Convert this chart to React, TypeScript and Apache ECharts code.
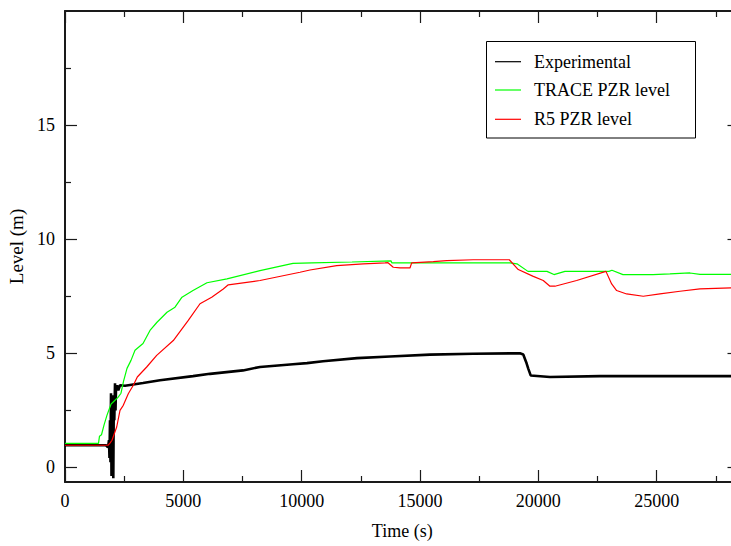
import React, { useEffect, useRef } from "react";
import * as echarts from "echarts";

// ---- data ----
const expTime = [0, 1732, 1817, 1859, 1880, 1901, 1922, 1944, 1965, 1986, 2007, 2028, 2041, 2062, 2083, 2113, 2134, 2155, 2197, 2252, 2324, 2535, 3296, 4014, 5408, 6126, 7521, 8239, 9633, 10225, 10901, 12337, 13731, 15421, 17238, 19224, 19363, 19507, 19574, 19676, 20491, 22604, 25422, 28200];
const expLevel = [0.97, 0.97, 0.88, 1.19, 0.41, 2.07, 0.23, 3.25, -0.38, 2.94, 0.76, 3.16, -0.47, 2.94, 2.07, 3.69, 2.5, 3.47, 3.6, 3.38, 3.6, 3.58, 3.7, 3.82, 4.0, 4.1, 4.25, 4.4, 4.52, 4.57, 4.65, 4.79, 4.86, 4.94, 4.98, 5.0, 4.95, 4.55, 4.33, 4.03, 3.96, 4.0, 4.0, 4.0];

const traceTime = [0, 1415, 1458, 1542, 1648, 1775, 1944, 2070, 2239, 2366, 2472, 2620, 2789, 2958, 3296, 3591, 3887, 4310, 4648, 4943, 5408, 5999, 6844, 8239, 9633, 10436, 12126, 13774, 13816, 18801, 19097, 19562, 20365, 20660, 21125, 22984, 23110, 23575, 24843, 25561, 26406, 26829, 28200];
const traceLevel = [1.05, 1.05, 1.37, 1.43, 1.85, 2.29, 2.77, 2.9, 3.07, 3.25, 3.77, 4.34, 4.69, 5.13, 5.43, 6.0, 6.36, 6.8, 7.02, 7.46, 7.75, 8.09, 8.26, 8.62, 8.94, 8.96, 9.0, 9.05, 8.96, 8.96, 8.92, 8.59, 8.59, 8.45, 8.59, 8.59, 8.64, 8.45, 8.45, 8.48, 8.52, 8.46, 8.46];

const r5Time = [0, 1817, 1901, 1986, 2184, 2324, 2463, 2674, 2886, 3055, 3452, 3874, 4576, 5209, 5704, 6198, 6688, 6899, 8239, 9929, 10351, 11479, 12603, 13520, 13647, 13870, 14154, 14576, 14648, 15561, 16127, 17251, 18772, 19152, 19786, 20208, 20491, 20703, 21619, 22857, 23098, 23309, 23732, 24433, 25139, 25984, 26829, 28200];
const r5Level = [0.97, 0.97, 1.06, 1.19, 1.77, 2.5, 2.72, 3.23, 3.6, 3.96, 4.4, 4.91, 5.56, 6.44, 7.17, 7.46, 7.82, 8.0, 8.19, 8.55, 8.65, 8.84, 8.92, 8.96, 8.97, 8.77, 8.74, 8.74, 8.96, 9.02, 9.06, 9.1, 9.1, 8.67, 8.37, 8.19, 7.94, 7.94, 8.19, 8.59, 8.04, 7.75, 7.6, 7.5, 7.6, 7.72, 7.82, 7.87];

const seriesNames = ["Experimental", "TRACE PZR level", "R5 PZR level"];
const seriesColors = ["#000000", "#00ff00", "#ff0000"];

const xMajorTicks = [0, 5000, 10000, 15000, 20000, 25000];
const xMinorTicks = [2500, 7500, 12500, 17500, 22500, 27500];
const yMajorTicks = [0, 5, 10, 15];
const yMinorTicks = [2.5, 7.5, 12.5, 17.5];

const X_MIN = 0;
const X_MAX = 28500;
const Y_MIN = -0.64;
const Y_MAX = 20;

const FONT = "Liberation Serif";
const AXIS_COLOR = "#1a1a1a";

function zip(t: number[], v: number[]) {
  return t.map((x, i) => [x, v[i]]);
}

function xAxisDef(position: "top" | "bottom", ticks: number[], len: number, main: boolean) {
  return {
    type: "value",
    gridIndex: 0,
    position,
    min: X_MIN,
    max: X_MAX,
    axisLine: { show: main, onZero: false, lineStyle: { color: AXIS_COLOR, width: 2 } },
    axisTick: { show: true, inside: true, length: len, customValues: ticks, lineStyle: { color: AXIS_COLOR, width: 1.2 } },
    axisLabel: main && position === "bottom"
      ? { show: true, customValues: ticks, fontSize: 18, fontFamily: FONT, color: "#000", margin: 10, formatter: (v: number) => String(v) }
      : { show: false },
    splitLine: { show: false },
    name: main && position === "bottom" ? "Time (s)" : "",
    nameLocation: "middle",
    nameGap: 40,
    nameTextStyle: { fontSize: 18, fontFamily: FONT, color: "#000" },
  };
}

function yAxisDef(position: "left" | "right", ticks: number[], len: number, main: boolean) {
  return {
    type: "value",
    gridIndex: 0,
    position,
    min: Y_MIN,
    max: Y_MAX,
    axisLine: { show: main, onZero: false, lineStyle: { color: AXIS_COLOR, width: 2 } },
    axisTick: { show: true, inside: true, length: len, customValues: ticks, lineStyle: { color: AXIS_COLOR, width: 1.2 } },
    axisLabel: main && position === "left"
      ? { show: true, customValues: ticks, fontSize: 18, fontFamily: FONT, color: "#000", margin: 10, formatter: (v: number) => String(v) }
      : { show: false },
    splitLine: { show: false },
    name: main && position === "left" ? "Level (m)" : "",
    nameLocation: "middle",
    nameRotate: 90,
    nameGap: 36,
    nameTextStyle: { fontSize: 19, fontFamily: FONT, color: "#000" },
  };
}

export default function App() {
  const ref = useRef<HTMLDivElement>(null);

  useEffect(() => {
    if (!ref.current) return;
    const chart = echarts.init(ref.current, undefined, { renderer: "svg" });

    const legendLeft = 486.5;
    const legendTop = 41.5;
    const rowY = [61.7, 90, 119.3];
    const legendGraphics: any[] = [
      {
        type: "rect",
        shape: { x: legendLeft, y: legendTop, width: 209, height: 96.5 },
        style: { fill: "#fff", stroke: "#000", lineWidth: 1 },
        z: 100,
      },
    ];
    seriesNames.forEach((name, i) => {
      legendGraphics.push({
        type: "line",
        shape: { x1: 495, y1: rowY[i], x2: 521, y2: rowY[i] },
        style: { stroke: seriesColors[i], lineWidth: 1.2 },
        z: 101,
      });
      legendGraphics.push({
        type: "text",
        x: 534,
        y: rowY[i],
        style: { text: name, fill: "#000", fontSize: 18, fontFamily: FONT, verticalAlign: "middle", align: "left" },
        z: 101,
      });
    });

    const option: any = {
      animation: false,
      backgroundColor: "#fff",
      grid: { left: 65, top: 11, width: 674.5, height: 471, containLabel: false, outerBoundsMode: "none" },
      xAxis: [
        xAxisDef("bottom", xMajorTicks, 12, true),
        xAxisDef("bottom", xMinorTicks, 6, false),
        xAxisDef("top", xMajorTicks, 12, true),
        xAxisDef("top", xMinorTicks, 6, false),
      ],
      yAxis: [
        yAxisDef("left", yMajorTicks, 12, true),
        yAxisDef("left", yMinorTicks, 6, false),
        yAxisDef("right", yMajorTicks, 12, true),
        yAxisDef("right", yMinorTicks, 6, false),
      ],
      series: [
        {
          name: seriesNames[0],
          type: "line",
          data: zip(expTime, expLevel),
          showSymbol: false,
          symbol: "none",
          lineStyle: { color: seriesColors[0], width: 2.6 },
          z: 2,
        },
        {
          name: seriesNames[1],
          type: "line",
          data: zip(traceTime, traceLevel),
          showSymbol: false,
          symbol: "none",
          lineStyle: { color: seriesColors[1], width: 1.2 },
          z: 3,
        },
        {
          name: seriesNames[2],
          type: "line",
          data: zip(r5Time, r5Level),
          showSymbol: false,
          symbol: "none",
          lineStyle: { color: seriesColors[2], width: 1.2 },
          z: 4,
        },
      ],
      graphic: legendGraphics,
    };

    chart.setOption(option);
    return () => chart.dispose();
  }, []);

  return (
    <div
      ref={ref}
      style={{ position: "absolute", left: 0, top: 0, width: 731, height: 546, background: "#fff" }}
    />
  );
}
